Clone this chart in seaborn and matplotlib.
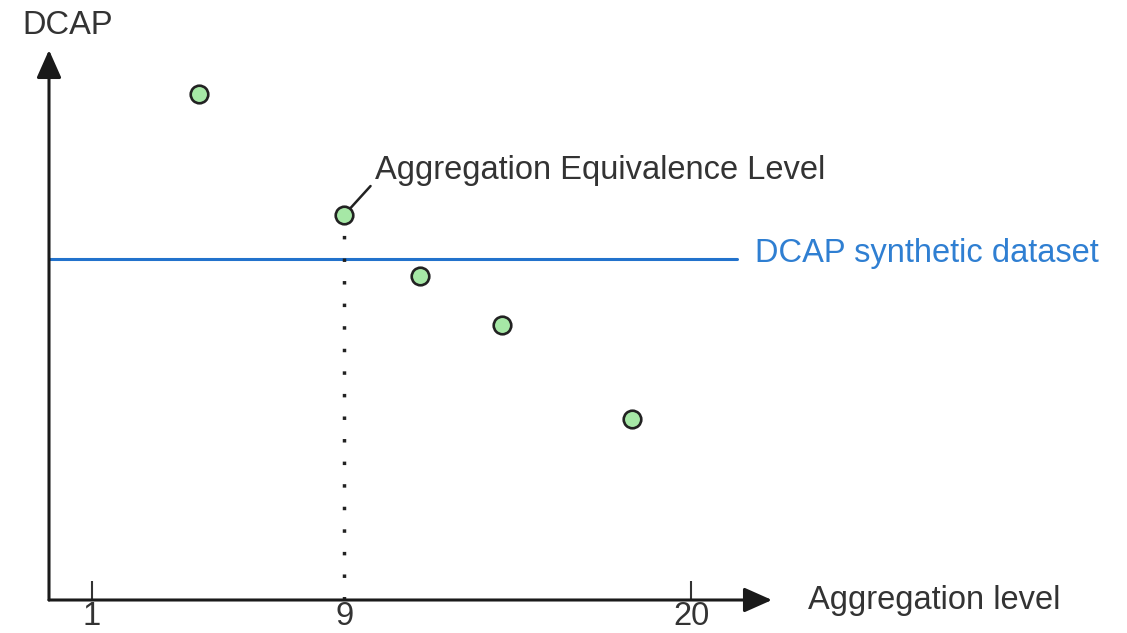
import matplotlib
matplotlib.use("Agg")
import matplotlib.pyplot as plt
import seaborn as sns
import pandas as pd

# data
agg_level = [4.4, 9, 11.4, 14.0, 18.1]
dcap = [0.92, 0.70, 0.59, 0.50, 0.33]
synthetic_dcap = 0.62
equivalence_level = 9
tick_levels = [1, 9, 20]
tick_labels = ["1", "9", "20"]

sns.set_theme(style="white")
plt.rcParams['font.family'] = ['Liberation Sans', 'DejaVu Sans']
plt.rcParams['text.color'] = '#333333'
fs = 23.5

df = pd.DataFrame({"level": agg_level, "dcap": dcap})

fig = plt.figure(figsize=(11.27, 6.33), dpi=100)
ax = fig.add_axes([49 / 1127, 33 / 633, 723 / 1127, 550 / 633])

# synthetic dataset reference line
ax.axhline(synthetic_dcap, xmin=0, xmax=0.952, color="#2272cc", lw=2.2, zorder=1)
ax.annotate("DCAP synthetic dataset", xy=(0.976, synthetic_dcap),
            xycoords=("axes fraction", "data"), xytext=(0, 4), textcoords="offset points",
            ha="left", va="center", fontsize=fs, color="#2f7fd2", annotation_clip=False)

# dotted drop line at the equivalence level
eq_dcap = dcap[agg_level.index(equivalence_level)]
ax.plot([equivalence_level, equivalence_level], [0, eq_dcap], color="#222222",
        lw=2.5, linestyle=(0, (1, 5.5)), zorder=1)

sns.scatterplot(data=df, x="level", y="dcap", ax=ax, s=160, color="#a6e8a6",
                edgecolor="#222222", linewidth=1.9, zorder=3, legend=False)

ax.annotate("Aggregation Equivalence Level", xy=(equivalence_level, eq_dcap),
            xytext=(22, 32), textcoords="offset points", ha="left", va="center",
            fontsize=fs,
            arrowprops=dict(arrowstyle="-", color="#222222", lw=1.8,
                            relpos=(0, 0.15), shrinkA=1, shrinkB=7))

ax.set_xlim(-0.35, 22.55)
ax.set_ylim(0, 1)

# arrow-headed axes
for s in ax.spines.values():
    s.set_visible(False)
for end in [(1, 0), (0, 1)]:
    ax.annotate("", xy=end, xytext=(0, 0), xycoords="axes fraction",
                arrowprops=dict(arrowstyle="-|>,head_length=0.9,head_width=0.4",
                                color="#1a1a1a", lw=2.2, shrinkA=0, shrinkB=0,
                                mutation_scale=19))

ax.set_xticks(tick_levels)
ax.set_xticklabels(tick_labels)
ax.set_yticks([])
ax.tick_params(axis="x", direction="in", length=14, width=1.5, color="#333333",
               labelsize=fs, labelcolor="#333333", pad=1, bottom=True)
ax.xaxis.get_major_ticks()[1].tick1line.set_visible(False)

ax.set_xlabel("")
ax.set_ylabel("")
ax.text(-0.037, 1.044, "DCAP", transform=ax.transAxes, ha="left", va="center", fontsize=fs)
ax.text(1.05, 0.0, "Aggregation level", transform=ax.transAxes, ha="left", va="center",
        fontsize=fs)

fig.savefig("out.png", dpi=100)
